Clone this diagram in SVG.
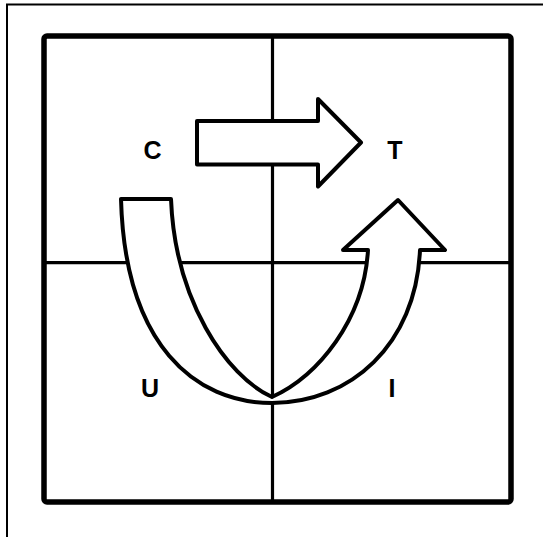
<svg xmlns="http://www.w3.org/2000/svg" width="543" height="537" viewBox="0 0 543 537">
<style>
.frame{fill:none;stroke:#000;stroke-width:2}
.grid{fill:none;stroke:#000;stroke-width:3.2}
.box{fill:none;stroke:#000;stroke-width:5.5;stroke-linejoin:round}
.arrow{fill:#fff;stroke:#000;stroke-width:4;stroke-linejoin:round}
.lbl{font-family:"Liberation Sans",Arial,sans-serif;font-weight:bold;font-size:25px;text-anchor:middle;fill:#000}
</style>
<rect width="543" height="537" fill="#fff"/>
<path class="frame" d="M7,537 V4.5 H543"/>
<g id="grid">
<line class="grid" x1="272.5" y1="36" x2="272.5" y2="502"/>
<line class="grid" x1="44" y1="262.7" x2="511" y2="262.7"/>
<rect class="box" x="44" y="36" width="467" height="466" rx="3"/>
</g>
<g id="connectors">
<path id="arrow-ct" class="arrow" d="M197,121 H318 V99 L361,142.5 L318,186.5 V164.5 H197 Z"/>
<path id="arrow-u" class="arrow" d="M121,199 H171 C175,300 226,376 272,397 C318,376 364,320 368,250 H343 L398,200 L445,250 H420 C416,345 350,403 272,403 C195,403 125,345 121,199 Z"/>
</g>
<g id="node-c"><text class="lbl" x="152.5" y="159">C</text></g>
<g id="node-t"><text class="lbl" x="395" y="159">T</text></g>
<g id="node-u"><text class="lbl" x="150" y="397">U</text></g>
<g id="node-i"><text class="lbl" x="392" y="397">I</text></g>
</svg>
